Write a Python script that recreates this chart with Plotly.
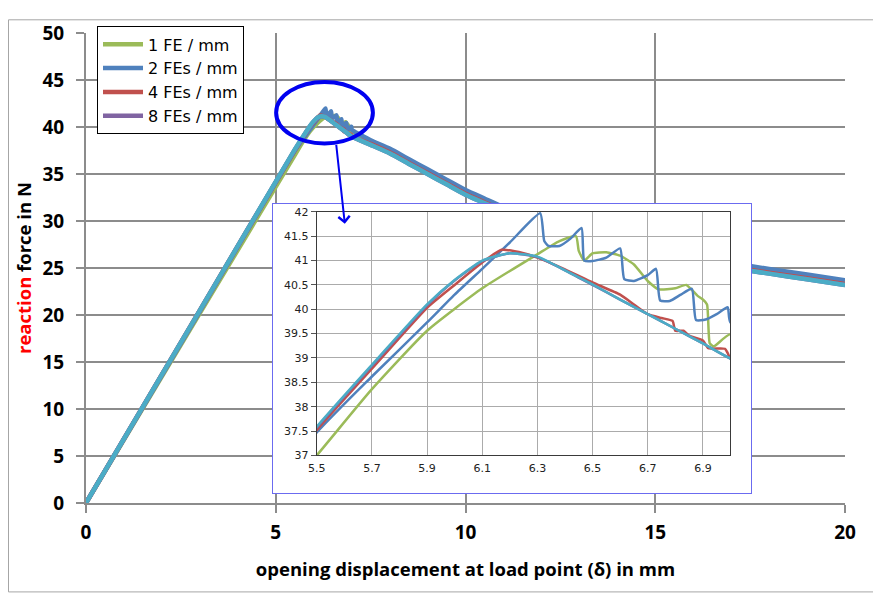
import plotly.graph_objects as go

# ---------------- data ----------------
# 1 FE / mm
x_fe1 = [0, 3.0, 5.5, 5.7, 5.9, 6.1, 6.3, 6.38, 6.44, 6.45, 6.47, 6.5, 6.55, 6.6, 6.65, 6.7, 6.74, 6.8, 6.84, 6.88, 6.9, 6.915, 6.925, 6.94, 7.0,
         7.5, 8, 8.5, 9, 9.5, 10, 10.5, 11, 12, 13, 14, 15, 16, 17, 18, 19, 20]
y_fe1 = [0, 20.2, 37.0, 38.36, 39.56, 40.43, 41.13, 41.4, 41.5, 41.2, 41.0, 41.15, 41.17, 41.1, 40.92, 40.58, 40.41, 40.43, 40.5, 40.28, 40.2, 40.1, 39.3, 39.24, 39.49,
         38.5, 37.6, 36.5, 35.4, 34.3, 33.2, 32.3, 31.4, 29.8, 28.5, 27.4, 26.5, 25.9, 25.4, 24.8, 24.2, 23.6]

# 2 FEs / mm
x_fe2 = [0, 3.0, 5.5, 5.7, 5.9, 6.0, 6.1, 6.2, 6.31, 6.325, 6.34, 6.38, 6.42, 6.46, 6.47, 6.5, 6.55, 6.6, 6.615, 6.65, 6.7, 6.73, 6.745, 6.78, 6.82, 6.86, 6.875, 6.91, 6.95, 6.99, 7.0,
         7.5, 8, 8.5, 9, 9.5, 10, 10.5, 11, 12, 13, 14, 15, 16, 17, 18, 19, 20]
y_fe2 = [0, 20.4, 37.47, 38.62, 39.73, 40.3, 40.83, 41.37, 41.97, 41.4, 41.3, 41.3, 41.45, 41.67, 41.0, 40.99, 41.06, 41.25, 40.62, 40.58, 40.7, 40.83, 40.18, 40.17, 40.3, 40.42, 39.78, 39.79, 39.9, 40.04, 39.73,
          38.6, 37.7, 36.6, 35.5, 34.4, 33.3, 32.4, 31.5, 29.9, 28.6, 27.5, 26.6, 26.0, 25.5, 24.9, 24.3, 23.7]

# 4 FEs / mm
x_fe4 = [0, 3.0, 5.5, 5.7, 5.9, 6.0, 6.1, 6.17, 6.25, 6.3, 6.4, 6.5, 6.6, 6.65, 6.7, 6.75, 6.79, 6.8, 6.83, 6.85, 6.9, 6.92, 6.98, 6.99, 7.0,
         7.5, 8, 8.5, 9, 9.5, 10, 10.5, 11, 12, 13, 14, 15, 16, 17, 18, 19, 20]
y_fe4 = [0, 20.5, 37.52, 38.78, 40.03, 40.5, 40.96, 41.22, 41.15, 41.06, 40.82, 40.55, 40.3, 40.1, 39.9, 39.82, 39.76, 39.56, 39.56, 39.46, 39.36, 39.2, 39.19, 39.1, 38.99,
         38.2, 37.3, 36.2, 35.1, 34.0, 32.9, 32.0, 31.1, 29.5, 28.2, 27.1, 26.2, 25.6, 25.1, 24.5, 23.9, 23.3]

# 8 FEs / mm
x_fe8 = [0, 3.0, 5.5, 5.7, 5.9, 6.0, 6.1, 6.2, 6.3, 6.4, 6.5, 6.6, 6.7, 6.8, 6.9, 7.0,
         7.5, 8, 8.5, 9, 9.5, 10, 10.5, 11, 12, 13, 14, 15, 16, 17, 18, 19, 20]
y_fe8 = [0, 20.5, 37.57, 38.84, 40.08, 40.59, 40.99, 41.15, 41.07, 40.8, 40.5, 40.2, 39.9, 39.6, 39.3, 38.99,
         38.1, 37.2, 36.1, 35.0, 33.9, 32.8, 31.9, 31.0, 29.4, 28.1, 27.0, 26.1, 25.5, 25.0, 24.4, 23.8, 23.2]

# reference curve (light blue, not in legend)
x_ref = [0, 3.0, 5.5, 5.7, 5.9, 6.0, 6.1, 6.2, 6.3, 6.4, 6.5, 6.6, 6.7, 6.8, 6.9, 7.0,
         7.5, 8, 8.5, 9, 9.5, 10, 10.5, 11, 12, 13, 14, 15, 16, 17, 18, 19, 20]
y_ref = [0, 20.5, 37.59, 38.86, 40.1, 40.6, 41.0, 41.15, 41.08, 40.8, 40.51, 40.2, 39.9, 39.6, 39.3, 38.99,
         38.1, 37.2, 36.1, 35.0, 33.9, 32.8, 31.9, 31.0, 29.4, 28.1, 27.0, 26.1, 25.5, 25.0, 24.4, 23.8, 23.2]

series_names = ["1 FE / mm", "2 FEs / mm", "4 FEs / mm", "8 FEs / mm"]
series_x = [x_fe1, x_fe2, x_fe4, x_fe8]
series_y = [y_fe1, y_fe2, y_fe4, y_fe8]
series_colors = ["#9BBB59", "#4F81BD", "#C0504D", "#8064A2"]
ref_color = "#4BACC6"

main_xticks = [0, 5, 10, 15, 20]
main_yticks = [0, 5, 10, 15, 20, 25, 30, 35, 40, 45, 50]
inset_xticks = [5.5, 5.7, 5.9, 6.1, 6.3, 6.5, 6.7, 6.9]
inset_xtext = ["5.5", "5.7", "5.9", "6.1", "6.3", "6.5", "6.7", "6.9"]
inset_yticks = [37, 37.5, 38, 38.5, 39, 39.5, 40, 40.5, 41, 41.5, 42]
inset_ytext = ["37", "37.5", "38", "38.5", "39", "39.5", "40", "40.5", "41", "41.5", "42"]

# ---------------- figure ----------------
fig = go.Figure()

FONT = "Open Sans"
SMOOTH = 0.5

# main traces
for nm, xs, ys, c in zip(series_names, series_x, series_y, series_colors):
    fig.add_trace(go.Scatter(x=xs, y=ys, name=nm, mode="lines",
                             line=dict(color=c, width=4.5, shape="spline", smoothing=SMOOTH),
                             legendgroup=nm, xaxis="x", yaxis="y", hoverinfo="skip"))
fig.add_trace(go.Scatter(x=x_ref, y=y_ref, mode="lines", showlegend=False,
                         line=dict(color=ref_color, width=4.5, shape="spline", smoothing=SMOOTH),
                         xaxis="x", yaxis="y", hoverinfo="skip"))

# blank box subplot (white panel with blue border)
fig.add_trace(go.Scatter(x=[], y=[], showlegend=False, xaxis="x2", yaxis="y2", hoverinfo="skip"))

# inset traces
for nm, xs, ys, c in zip(series_names, series_x, series_y, series_colors):
    fig.add_trace(go.Scatter(x=xs, y=ys, name=nm, mode="lines", showlegend=False,
                             line=dict(color=c, width=2.5, shape="spline", smoothing=SMOOTH),
                             legendgroup=nm, xaxis="x3", yaxis="y3", hoverinfo="skip"))
fig.add_trace(go.Scatter(x=x_ref, y=y_ref, mode="lines", showlegend=False,
                         line=dict(color=ref_color, width=2.5, shape="spline", smoothing=SMOOTH),
                         xaxis="x3", yaxis="y3", hoverinfo="skip"))

grid_c = "#8C8C8C"
# the page body adds an 8 px offset, so the figure is 8 px smaller and margins shifted
W, H = 873, 588
fig.update_layout(
    width=W, height=H, autosize=False,
    margin=dict(l=78, r=36, t=14, b=93),
    paper_bgcolor="white", plot_bgcolor="white",
    font=dict(family=FONT, color="black"),
    showlegend=True,
    legend=dict(x=0.0145, y=1.014, xanchor="left", yanchor="top",
                bgcolor="white", bordercolor="black", borderwidth=1,
                font=dict(family="DejaVu Sans", size=16, color="black"),
                itemwidth=40, tracegroupgap=0),
    xaxis=dict(domain=[0, 1], range=[0, 20], tickvals=main_xticks,
               showgrid=True, gridcolor=grid_c, gridwidth=1.5,
               showline=True, linecolor=grid_c, linewidth=2,
               ticks="outside", ticklen=8, tickwidth=1.5, tickcolor=grid_c,
               zeroline=False, ticklabelstandoff=3,
               tickfont=dict(family=FONT, size=19, weight="bold", color="black"),
               title=dict(text="opening displacement at load point (δ) in mm",
                          font=dict(family=FONT, size=18.5, weight="bold", color="black"),
                          standoff=19),
               anchor="y"),
    yaxis=dict(domain=[0, 1], range=[0, 50], tickvals=main_yticks,
               showgrid=True, gridcolor=grid_c, gridwidth=1.5,
               showline=True, linecolor=grid_c, linewidth=2,
               ticks="outside", ticklen=8, tickwidth=1.5, tickcolor=grid_c,
               zeroline=False, ticklabelstandoff=8,
               tickfont=dict(family=FONT, size=19, weight="bold", color="black"),
               title=dict(text='<span style="color:#FF0000">reaction</span> force in N',
                          font=dict(family=FONT, size=18.5, weight="bold", color="black"),
                          standoff=6),
               anchor="x"),
    xaxis2=dict(domain=[0.2464, 0.8762], range=[0, 1], showgrid=False, zeroline=False,
                showticklabels=False, ticks="", showline=True, mirror=True,
                linecolor="#6B6BF0", linewidth=1, anchor="y2", fixedrange=True),
    yaxis2=dict(domain=[0.0208, 0.6362], range=[0, 1], showgrid=False, zeroline=False,
                showticklabels=False, ticks="", showline=True, mirror=True,
                linecolor="#6B6BF0", linewidth=1, anchor="x2", fixedrange=True),
    xaxis3=dict(domain=[0.304, 0.8491], range=[5.5, 7.0], tickvals=inset_xticks, ticktext=inset_xtext,
                showgrid=True, gridcolor="#ABABAB", gridwidth=1.3, zeroline=False,
                showline=True, mirror=True, linecolor="#3A3A3A", linewidth=1,
                ticks="", ticklabelstandoff=2,
                tickfont=dict(family="DejaVu Sans", size=11, color="#222222"),
                anchor="y3"),
    yaxis3=dict(domain=[0.1012, 0.6195], range=[37, 42], tickvals=inset_yticks, ticktext=inset_ytext,
                showgrid=True, gridcolor="#ABABAB", gridwidth=1.3, zeroline=False,
                showline=True, mirror=True, linecolor="#3A3A3A", linewidth=1,
                ticks="outside", ticklen=5, tickcolor="#555555",
                tickfont=dict(family="DejaVu Sans", size=11, color="#222222"),
                anchor="x3"),
)

# highlight ellipse around the peak
fig.add_shape(type="circle", xref="x", yref="y", x0=5.01, x1=7.56, y0=38.25, y1=44.8,
              line=dict(color="#0000F0", width=4), layer="above")

# arrow pointing into the inset
fig.add_annotation(x=6.82, y=29.7, ax=6.59, ay=38.25, xref="x", yref="y", axref="x", ayref="y",
                   text="", showarrow=True, arrowhead=4, arrowsize=1.1, arrowwidth=2,
                   arrowcolor="#0000F0")

# outer chart frame (figure-pixel positions converted to paper fractions)
fig.add_shape(type="rect", xref="paper", yref="paper",
              x0=(0.5 - 78) / 759, x1=(880 - 78) / 759, y0=(495 - 586) / 481, y1=(495 - 0.5) / 481,
              line=dict(color="#A6A6A6", width=1), layer="below")

fig.write_html("out.html")
